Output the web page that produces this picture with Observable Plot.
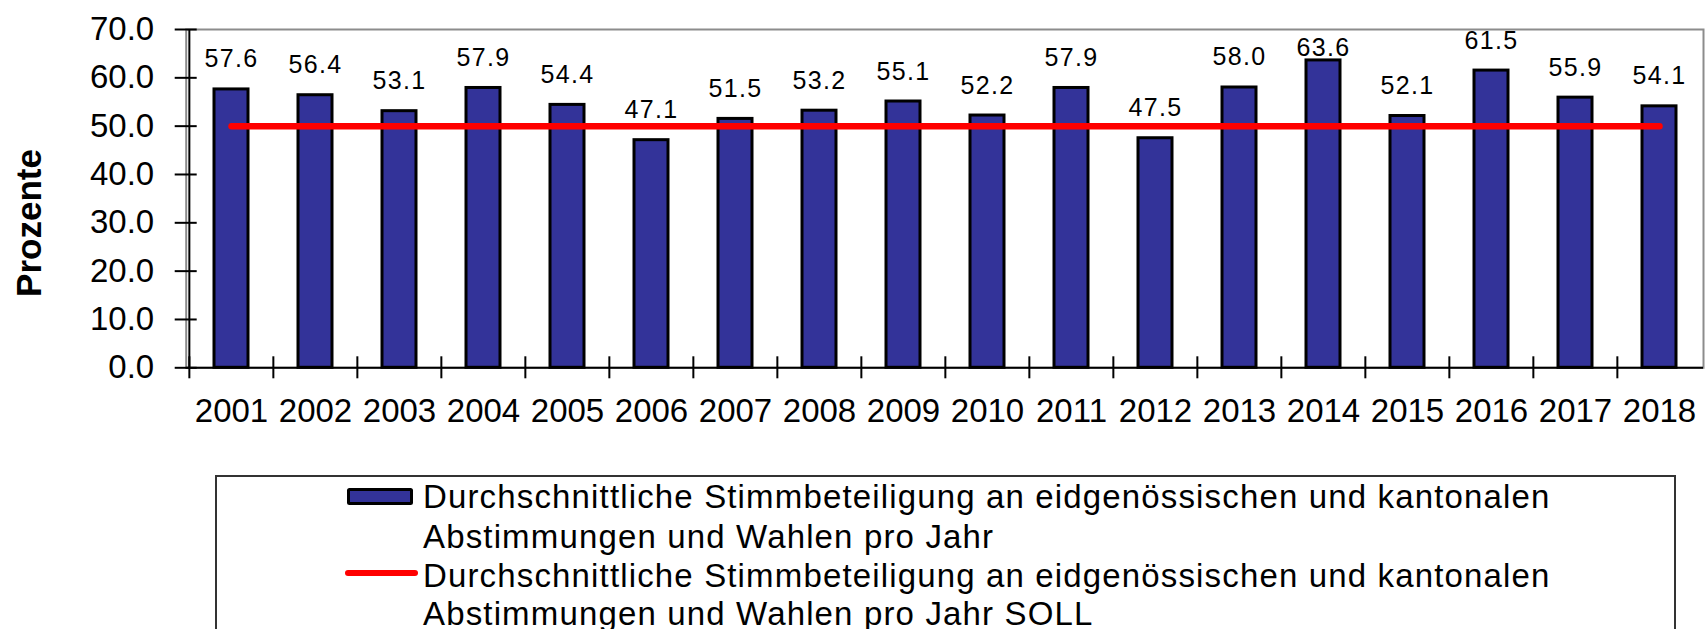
<!DOCTYPE html>
<html>
<head>
<meta charset="utf-8">
<script src="https://cdn.jsdelivr.net/npm/d3@7"></script>
<script src="https://cdn.jsdelivr.net/npm/@observablehq/plot@0.6"></script>
<style>
  html, body { margin: 0; padding: 0; background: white; }
  #chart { position: relative; width: 1706px; height: 629px; overflow: hidden; background: white; }
  svg { display: block; }
</style>
</head>
<body>
<div id="chart"></div>
<script>
// ---- data ----
const years = ["2001","2002","2003","2004","2005","2006","2007","2008","2009","2010","2011","2012","2013","2014","2015","2016","2017","2018"];
const turnout = [57.6,56.4,53.1,57.9,54.4,47.1,51.5,53.2,55.1,52.2,57.9,47.5,58.0,63.6,52.1,61.5,55.9,54.1];
const soll = [50,50,50,50,50,50,50,50,50,50,50,50,50,50,50,50,50,50];
const yTicks = [0,10,20,30,40,50,60,70];
const yLabel = "Prozente";
const legendLines = [
  "Durchschnittliche Stimmbeteiligung an eidgenössischen und kantonalen",
  "Abstimmungen und Wahlen pro Jahr",
  "Durchschnittliche Stimmbeteiligung an eidgenössischen und kantonalen",
  "Abstimmungen und Wahlen pro Jahr SOLL"
];

const rows = years.map((year, i) => ({year, value: turnout[i], soll: soll[i]}));

// ---- layout ----
const W = 1706, H = 440;
const ML = 185.7, MR = 3, MT = 29, MB = H - 367.3;
const step = (W - ML - MR) / years.length;
const font = "'Liberation Sans', Arial, sans-serif";

const chart = Plot.plot({
  width: W, height: H,
  marginLeft: ML, marginRight: MR, marginTop: MT, marginBottom: MB,
  x: {domain: years, paddingInner: 0.6, paddingOuter: 0.3},
  y: {domain: [0, 70]},
  style: {fontFamily: font, color: "black", background: "white", overflow: "visible"},
  marks: [
    Plot.frame({stroke: "#8c8c8c", strokeWidth: 2}),
    Plot.barY(rows, {x: "year", y: "value", fill: "#333399", stroke: "black", strokeWidth: 3}),
    Plot.lineY(rows, {x: "year", y: "soll", stroke: "#ff0000", strokeWidth: 6.5, strokeLinecap: "round"}),
    Plot.ruleY([0], {stroke: "black", strokeWidth: 2}),
    Plot.ruleX([years[0]], {y1: 0, y2: 70, dx: -step / 2, stroke: "black", strokeWidth: 2}),
    Plot.axisY({ticks: yTicks, tickFormat: d3.format(".1f"), tickSize: 22, dx: 11, tickPadding: 21,
                fontSize: 33, strokeWidth: 2, label: null}),
    Plot.axisX({tickSize: 22, dx: -step / 2, dy: -11, tickFormat: () => "", label: null, strokeWidth: 2}),
    Plot.axisX({tickSize: 0, tickPadding: 31, fontSize: 33, label: null}),
    // value labels (Excel keeps the tallest label inside the plot area)
    Plot.text(rows, {x: "year", y: d => d.value > 62 ? 60 : d.value, text: d => d.value.toFixed(1),
                     dy: -22, lineAnchor: "bottom", fontSize: 25, fill: "black"}),
    Plot.text([yLabel], {frameAnchor: "left", rotate: -90, dx: 29.5 - ML, dy: 222.5 - (MT + 367.3) / 2,
                         fontSize: 35, fontWeight: "bold", lineAnchor: "middle", textAnchor: "middle"})
  ]
});

d3.select(chart).selectAll('g[aria-label="text"]')
  .filter(function() { return this.childElementCount === years.length; })
  .style("letter-spacing", "1.3px");

const root = document.getElementById("chart");
root.appendChild(chart);

// ---- legend (below the chart svg) ----
const LH = 629 - H;
const leg = d3.select(root).append("svg")
  .attr("width", W).attr("height", LH)
  .style("font-family", font);
const off = H;
leg.append("rect").attr("x", 216).attr("y", 476 - off).attr("width", 1459).attr("height", 300)
  .attr("fill", "none").attr("stroke", "#333").attr("stroke-width", 2);
leg.append("rect").attr("x", 348.5).attr("y", 489.5 - off).attr("width", 63).attr("height", 14)
  .attr("rx", 1).attr("fill", "#333399").attr("stroke", "black").attr("stroke-width", 3);
leg.append("line").attr("x1", 348).attr("x2", 415).attr("y1", 573 - off).attr("y2", 573 - off)
  .attr("stroke", "#ff0000").attr("stroke-width", 6).attr("stroke-linecap", "round");
const baselines = [508, 547.5, 587, 625];
leg.selectAll("text.leg").data(legendLines).join("text")
  .attr("class", "leg")
  .attr("x", 423).attr("y", (d, i) => baselines[i] - off)
  .attr("font-size", 33).attr("fill", "black")
  .style("letter-spacing", "1.15px")
  .text(d => d);
</script>
</body>
</html>
